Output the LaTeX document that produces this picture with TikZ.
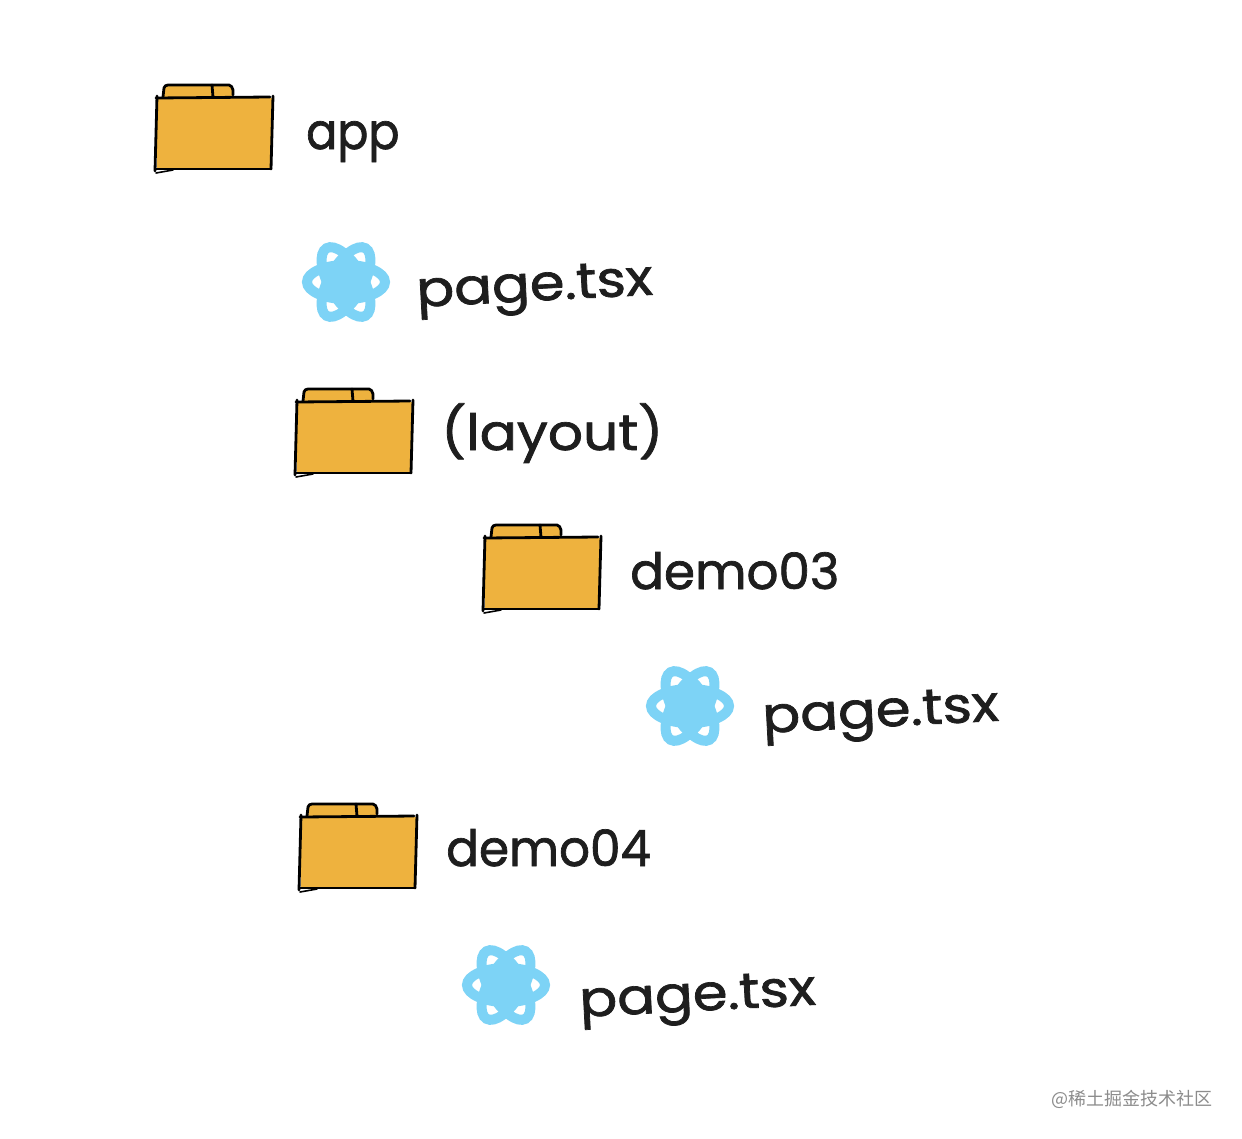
\documentclass[tikz,border=0pt]{standalone}
\usepackage{fontspec}
\setmainfont{Poppins}[FakeBold=1.4]
\newfontfamily\cjkfont{Noto Sans CJK SC}
\definecolor{folderfill}{HTML}{EEB23E}
\definecolor{reactblue}{HTML}{7DD3F6}
\definecolor{inkblack}{HTML}{1E1E1E}
\newcommand{\tsxname}{\scalebox{1.12}[1]{page.tsx}}
\tikzset{
    label/.style={anchor=base west, inner sep=0pt, text=inkblack, font=\fontsize{50}{60}\selectfont},
    sketch/.style={draw=black, line width=2.8pt, line cap=round, line join=round},
    folder/.pic={
        \fill[folderfill, rounded corners=3pt] (6,2) -- (6,-13) -- (75,-13) -- (76,2) -- cycle;
        \fill[folderfill] (0,0) rectangle (115,72);
        \draw[sketch] (6,-1) -- (7,-10) to[out=80,in=180] (11,-13) -- (72,-13) to[out=0,in=110] (76,-8) -- (76,-3);
        \draw[sketch] (55,-13) -- (56,-1);
        \draw[sketch] (-1,0) -- (113,-1);
        \draw[sketch] (116,-2) -- (114,71);
        \draw[sketch] (0,-2) -- (-2,73);
        \draw[sketch] (-1,71) -- (114,71);
        \draw[sketch, line width=1.6pt] (-1,75) -- (16,72);
    },
    atom/.pic={
        \fill[reactblue] (0,0) circle (20);
        \foreach \ang in {0,60,120}
            \draw[reactblue, line width=10pt, rotate=\ang] (0,0) ellipse (39 and 17);
    }
}
\begin{document}
\begin{tikzpicture}[x=1pt, y=-1pt]
    \useasboundingbox (0,0) rectangle (1242,1138);
    \fill[white] (0,0) rectangle (1242,1138);

    \pic (f_app) at (157,98) {folder};
    \pic (f_layout) at (297,402) {folder};
    \pic (f_demo3) at (485,538) {folder};
    \pic (f_demo4) at (301,817) {folder};

    \pic (r_one) at (346,282) {atom};
    \pic (r_two) at (690,706) {atom};
    \pic (r_three) at (506,985) {atom};

    \node[label] (t_app) at (306,149) {\scalebox{.92}[1]{app}};
    \node[label, rotate=3] (t_page1) at (417,307) {\tsxname};
    \node[label] (t_layout) at (441,450) {\scalebox{1.1}[1]{(layout)}};
    \node[label] (t_demo3) at (630,589) {demo03};
    \node[label, rotate=3] (t_page2) at (763,733) {\tsxname};
    \node[label] (t_demo4) at (446,866) {\scalebox{.97}[1]{demo04}};
    \node[label, rotate=3] (t_page3) at (580,1017) {\tsxname};

    \node[anchor=base east, inner sep=0pt, text=black!45, font=\fontsize{18}{20}\selectfont\cjkfont] (mark) at (1213,1105) {@稀土掘金技术社区};
\end{tikzpicture}
\end{document}
